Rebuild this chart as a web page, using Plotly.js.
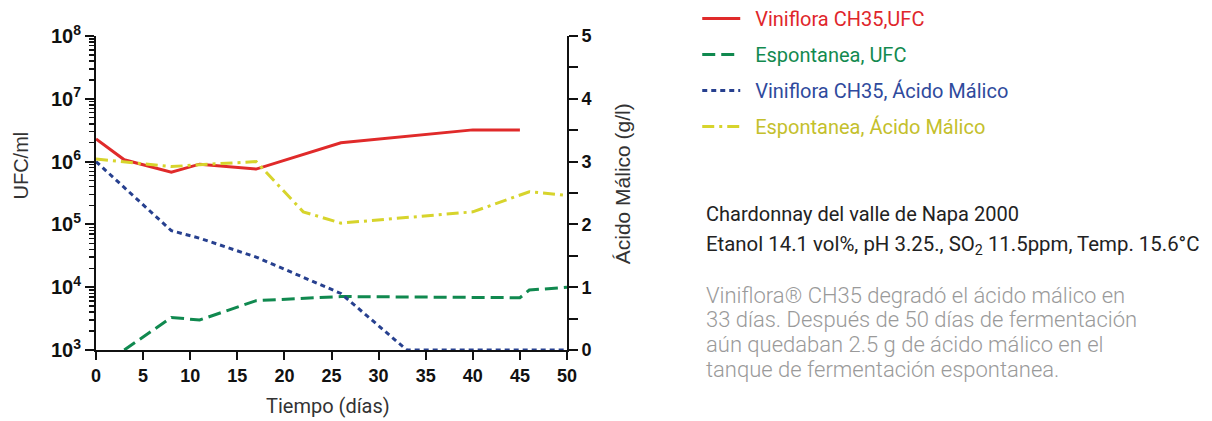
<!DOCTYPE html>
<html>
<head>
<meta charset="utf-8">
<script src="https://cdn.plot.ly/plotly-3.0.1.min.js"></script>
<style>html,body{margin:0;padding:0;background:#fff;}#chart{width:1212px;height:421px;}</style>
</head>
<body>
<div id="chart"></div>
<script>
// ---- data ----
const seriesNames = ["Viniflora CH35,UFC", "Espontanea, UFC", "Viniflora CH35, Ácido Málico", "Espontanea, Ácido Málico"];
const daysVinUFC = [0, 3, 8, 11, 17, 26, 40, 45];
const ufcVin = [2.3e6, 1.07e6, 6.8e5, 9.1e5, 7.6e5, 2.0e6, 3.2e6, 3.2e6];
const daysEspUFC = [3, 8, 11, 17, 26, 40, 45, 46, 50];
const ufcEsp = [1.0e3, 3.3e3, 3.0e3, 6.1e3, 7.1e3, 6.8e3, 6.8e3, 9.0e3, 1.0e4];
const daysVinMal = [0, 8, 11, 17, 26, 33, 40, 45, 50];
const malVin = [3.0, 1.9, 1.78, 1.48, 0.9, 0, 0, 0, 0];
const daysEspMal = [0, 8, 11, 17, 22, 26, 40, 46, 50];
const malEsp = [3.04, 2.92, 2.95, 3.0, 2.2, 2.02, 2.2, 2.52, 2.46];
const xTicks = [0, 5, 10, 15, 20, 25, 30, 35, 40, 45, 50];
const ufcTickExp = [3, 4, 5, 6, 7, 8];
const malTicks = [0, 1, 2, 3, 4, 5];
const xTitle = "Tiempo (días)";
const yTitle = "UFC/ml";
const y2Title = "Ácido Málico (g/l)";
const infoTitle = ["Chardonnay del valle de Napa 2000", "Etanol 14.1 vol%, pH 3.25., SO<sub>2</sub> 11.5ppm, Temp. 15.6°C"];
const infoBody = ["Viniflora® CH35 degradó el ácido málico en", "33 días. Después de 50 días de fermentación", "aún quedaban 2.5 g de ácido málico en el", "tanque de fermentación espontanea."];

// ---- styles ----
const lineColors = ["#e02a2a", "#10894f", "#27408f", "#d7d42c"];
const textColors = ["#e0262b", "#138a4f", "#2f4a9d", "#c4c02c"];
const dashes = ["solid", "13px,6px", "5px,4px", "12px,5px,3px,5px"];

function lbl(i){ return '<span style="color:' + textColors[i] + '">\u00A0\u00A0' + seriesNames[i] + '</span>'; }

const traces = [
  {x: daysVinUFC, y: ufcVin, yaxis: 'y'},
  {x: daysEspUFC, y: ufcEsp, yaxis: 'y'},
  {x: daysVinMal, y: malVin, yaxis: 'y2'},
  {x: daysEspMal, y: malEsp, yaxis: 'y2'}
].map((t, i) => Object.assign(t, {
  type: 'scatter', mode: 'lines', name: lbl(i), legendgroup: 'g' + i,
  line: {color: lineColors[i], width: 3, dash: dashes[i]},
  hoverinfo: 'skip'
}));

const L = 95.5, R = 566.7, T = 36, B = 350, W = 1212, H = 421;
const pw = R - L, ph = B - T;
const px = v => (v - L) / pw;
const py = v => (B - v) / ph;

const tickFont = {family: 'Liberation Sans, Arial, sans-serif', size: 18, color: '#111', weight: 'bold'};

function note(text, x, y, font, extra) {
  return Object.assign({text: text, xref: 'paper', yref: 'paper', x: px(x), y: py(y),
    xanchor: 'center', yanchor: 'middle', showarrow: false, font: font}, extra || {});
}

const titleFont = {family: 'Liberation Sans, Arial, sans-serif', size: 20, color: '#333'};
const infoFont = {family: 'Roboto, sans-serif', size: 20, color: '#222'};
const bodyFont = {family: 'Roboto, sans-serif', size: 22, color: '#9a9a9a', weight: 300};

const annotations = [
  note(yTitle, 20, 166, titleFont, {textangle: -90}),
  note(y2Title, 622, 184, Object.assign({}, titleFont, {size: 21}), {textangle: -90}),
  note(xTitle, 328, 406, {family: 'Roboto, sans-serif', size: 20, color: '#333'}),
  note(infoTitle[0], 704, 214, infoFont, {xanchor: 'left'}),
  note(infoTitle[1], 704, 245, Object.assign({}, infoFont, {size: 20.4}), {xanchor: 'left'})
].concat(infoBody.map((t, i) => note(t, 704, 295 + i * 24.7, bodyFont, {xanchor: 'left'})));

const layout = {
  width: W, height: H,
  margin: {l: L, r: W - R, t: T, b: H - B, pad: 0, autoexpand: false},
  paper_bgcolor: '#fff', plot_bgcolor: '#fff',
  showlegend: true,
  legend: {x: px(697), y: py(-1), xanchor: 'left', yanchor: 'top', traceorder: 'grouped', tracegroupgap: 7,
           font: {family: 'Roboto, sans-serif', size: 20}, bgcolor: 'rgba(0,0,0,0)', itemwidth: 38},
  xaxis: {range: [0, 50], tickvals: xTicks, ticks: 'outside', ticklen: 8, tickwidth: 2, tickcolor: '#111',
          showline: true, linecolor: '#111', linewidth: 2, showgrid: false, zeroline: false,
          tickfont: tickFont, fixedrange: true},
  yaxis: {type: 'log', range: [3, 8], tickvals: ufcTickExp.map(e => Math.pow(10, e)),
          ticktext: ufcTickExp.map(e => '10<sup>' + e + '</sup>'),
          ticks: 'outside', ticklen: 9, tickwidth: 2, tickcolor: '#111',
          minor: {ticks: 'outside', ticklen: 5, tickwidth: 1.5, tickcolor: '#111', dtick: 'D1', showgrid: false},
          showline: true, linecolor: '#111', linewidth: 2, showgrid: false, zeroline: false,
          tickfont: Object.assign({}, tickFont, {size: 20}), fixedrange: true},
  yaxis2: {overlaying: 'y', side: 'right', range: [0, 5], tickvals: malTicks,
           ticks: 'outside', ticklen: 9, tickwidth: 2, tickcolor: '#111',
           minor: {ticks: 'outside', ticklen: 9, tickwidth: 2, tickcolor: '#111', dtick: 0.5},
           showline: true, linecolor: '#111', linewidth: 2, showgrid: false, zeroline: false,
           tickfont: tickFont, fixedrange: true},
  annotations: annotations
};

Plotly.newPlot('chart', traces, layout, {staticPlot: true, displayModeBar: false});
</script>
</body>
</html>
